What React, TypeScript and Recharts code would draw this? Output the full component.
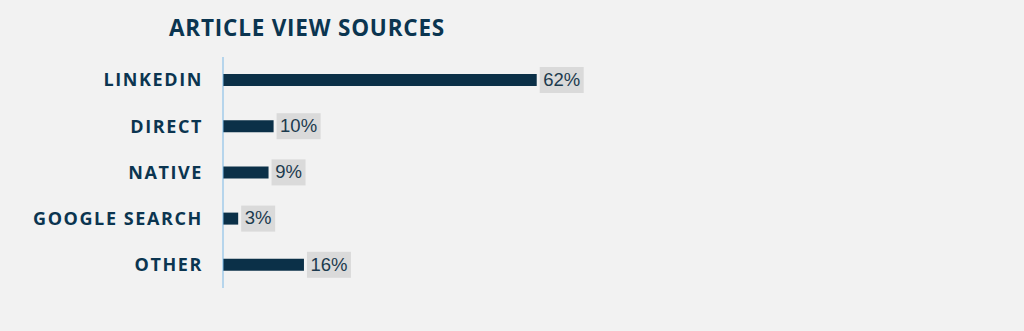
import { BarChart, Bar, XAxis, YAxis, LabelList } from 'recharts';

const categories = ['LINKEDIN', 'DIRECT', 'NATIVE', 'GOOGLE SEARCH', 'OTHER'];
const shares = [62, 10, 9, 3, 16];
const labels = ['62%', '10%', '9%', '3%', '16%'];

const data = categories.map((name, i) => ({ name, value: shares[i], label: labels[i] }));

function ValueLabel(props: any) {
  const { x, y, width, height, index } = props;
  const text = labels[index];
  const w = text.length * 10 + 14;
  const cy = y + height / 2;
  return (
    <g>
      <rect x={x + width + 3} y={cy - 13} width={w} height={26} fill="#dadada" />
      <text
        x={x + width + 3 + w / 2}
        y={cy + 1}
        textAnchor="middle"
        dominantBaseline="middle"
        fontFamily="Liberation Sans, Arial, sans-serif"
        fontSize={18.5}
        fill="#1c3a4e"
      >
        {text}
      </text>
    </g>
  );
}

export default function App() {
  return (
    <div style={{ position: 'absolute', left: 0, top: 0, width: 1024, height: 331, background: '#f2f2f2' }}>
      <div
        style={{
          position: 'absolute',
          left: 0,
          top: 12,
          width: 614,
          textAlign: 'center',
          fontFamily: 'Open Sans, sans-serif',
          fontWeight: 700,
          fontSize: 22.5,
          letterSpacing: 0.8,
          color: '#0b3550',
        }}
      >
        ARTICLE VIEW SOURCES
      </div>
      <BarChart
        width={1024}
        height={331}
        data={data}
        layout="vertical"
        margin={{ top: 57, right: 295, left: 10, bottom: 43 }}
      >
        <XAxis type="number" domain={[0, 100]} hide />
        <YAxis
          type="category"
          dataKey="name"
          width={213}
          tickLine={false}
          tickSize={0}
          tickMargin={20}
          axisLine={{ stroke: '#7ab8e6' }}
          tick={{ fill: '#0b3550', fontSize: 18, fontWeight: 700, fontFamily: 'Open Sans, sans-serif', letterSpacing: 1.6 }}
        />
        <Bar dataKey="value" fill="#0b3048" barSize={12} isAnimationActive={false}>
          <LabelList dataKey="label" content={<ValueLabel />} />
        </Bar>
      </BarChart>
    </div>
  );
}
